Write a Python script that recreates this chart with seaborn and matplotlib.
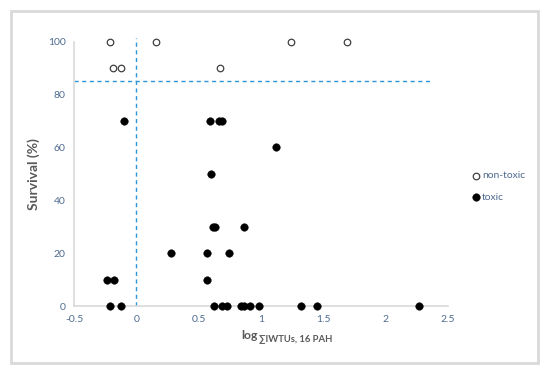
import matplotlib
matplotlib.use("Agg")
import matplotlib.pyplot as plt
import seaborn as sns
import pandas as pd
from matplotlib.patches import Rectangle

# Data
nontoxic_x = [-0.21, 0.16, 1.24, 1.69, -0.19, -0.12, 0.67]
nontoxic_y = [100, 100, 100, 100, 90, 90, 90]
toxic_x = [-0.10, 0.59, 0.66, 0.69,
           1.12,
           0.60,
           0.615, 0.635, 0.86,
           0.28, 0.57, 0.745,
           -0.235, -0.18, 0.57,
           -0.21, -0.125, 0.625, 0.69, 0.73, 0.84, 0.865, 0.91, 0.98, 1.32, 1.45, 2.265]
toxic_y = [70, 70, 70, 70,
           60,
           50,
           30, 30, 30,
           20, 20, 20,
           10, 10, 10,
           0, 0, 0, 0, 0, 0, 0, 0, 0, 0, 0, 0]
groups = ["non-toxic", "toxic"]
threshold_x = 0
threshold_y = 85
hline_x = [-0.5, 2.37]
x_ticks = [-0.5, 0, 0.5, 1, 1.5, 2, 2.5]
x_tick_labels = ["-0.5", "0", "0.5", "1", "1.5", "2", "2.5"]
y_ticks = [0, 20, 40, 60, 80, 100]

df_non = pd.DataFrame({"x": nontoxic_x, "y": nontoxic_y})
df_tox = pd.DataFrame({"x": toxic_x, "y": toxic_y})

sns.set_theme(style="white")
plt.rcParams["font.family"] = ["Lato", "DejaVu Sans"]

fig = plt.figure(figsize=(5.5, 3.73), dpi=100)
fig.patch.set_facecolor("white")
ax = fig.add_axes([74/550, 1-306.3/373, (448-74)/550, (306.3-41.5)/373])

# outer border
fig.patches.append(Rectangle((11/550, 1-363/373), (538-11)/550, (363-11)/373,
                             transform=fig.transFigure, fill=False,
                             edgecolor="#D9D9D9", linewidth=2))

blue = "#2E96D6"
ax.axvline(threshold_x, ymin=0, ymax=1.015, color=blue, linestyle=(0, (3, 2.5)),
           linewidth=1, clip_on=False, zorder=1)
ax.plot(hline_x, [threshold_y, threshold_y], color=blue, linestyle=(0, (3, 2.5)),
        linewidth=1, zorder=1, clip_on=False)

sns.scatterplot(data=df_non, x="x", y="y", ax=ax, color="white", edgecolor="#404040",
                linewidth=0.9, s=22, marker="o", label=groups[0], zorder=3, clip_on=False)
sns.scatterplot(data=df_tox, x="x", y="y", ax=ax, color="black", edgecolor="black",
                linewidth=0.3, s=30, marker="o", label=groups[1], zorder=3, clip_on=False)

ax.set_xlim(-0.5, 2.5)
ax.set_ylim(0, 100)
ax.set_xticks(x_ticks)
ax.set_xticklabels(x_tick_labels)
ax.set_yticks(y_ticks)

tick_color = "#4F6B8F"
ax.tick_params(axis="both", length=0, labelsize=7.5, labelcolor=tick_color, pad=6)
for s in ["top", "right"]:
    ax.spines[s].set_visible(False)
for s in ["left", "bottom"]:
    ax.spines[s].set_color("#D9D9D9")
    ax.spines[s].set_linewidth(1.2)

ax.set_xlabel("")
ax.set_ylabel("Survival (%)", fontsize=10, fontweight="bold", color="#595959", labelpad=6)

fig.text(241.5/550, 1-339.3/373, "log", fontsize=8.7, fontweight="bold", color="#595959",
         ha="left", va="baseline")
fig.text(259/550, 1-340.7/373, "\u2211IWTUs, 16 PAH", fontsize=6.8, fontweight="bold",
         color="#595959", ha="left", va="baseline")

leg = ax.legend(loc="upper left", bbox_to_anchor=(472/550, 1-171/373),
                bbox_transform=fig.transFigure, frameon=False, fontsize=7.5,
                handletextpad=0.15, labelspacing=1.15, borderaxespad=0, borderpad=0,
                handlelength=0.8)
for t in leg.get_texts():
    t.set_color(tick_color)

fig.savefig("out.png", dpi=100, facecolor="white")
